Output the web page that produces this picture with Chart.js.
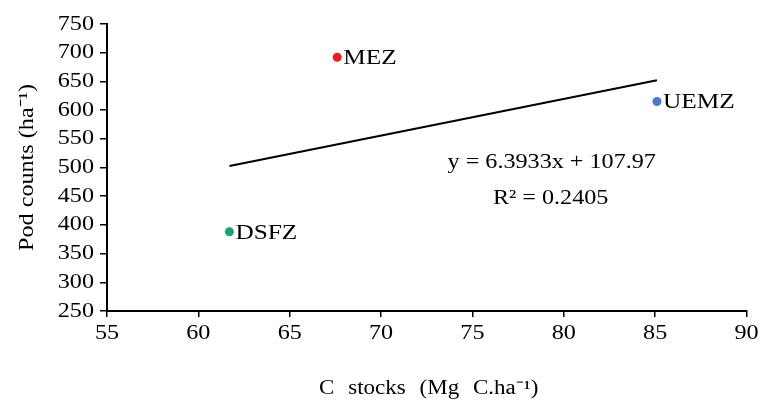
<!DOCTYPE html>
<html>
<head>
<meta charset="utf-8">
<script src="https://cdn.jsdelivr.net/npm/chart.js@4.4.1/dist/chart.umd.min.js"></script>
<style>
  html, body { margin: 0; padding: 0; background: #fff; }
  #wrap { width: 761px; height: 401px; }
</style>
</head>
<body>
<div id="wrap"><canvas id="c" width="761" height="401"></canvas></div>
<script>
// sites
let zones = ['DSFZ', 'MEZ', 'UEMZ'];
let c_stocks = [61.7, 67.6, 85.1];
let pod_counts = [388, 692, 615];
let zone_color = ['#12a86a', '#ee1c1c', '#4a78cc'];

// trend line from the figure
let slope = 6.3933;
let intercept = 107.97;
let eq_text = ['y = 6.3933x + 107.97', 'R² = 0.2405'];

let x_ticks = [55, 60, 65, 70, 75, 80, 85, 90];
let y_ticks = [250, 300, 350, 400, 450, 500, 550, 600, 650, 700, 750];
let x_title = 'C stocks (Mg C.ha⁻¹)';
let y_title = 'Pod counts (ha⁻¹)';

const FONT = "'Liberation Serif', 'Times New Roman', serif";
const STRETCH = 1.15; // the source text is a horizontally stretched Times

// stretch every text draw around its anchor point
const canvas = document.getElementById('c');
const cctx = canvas.getContext('2d');
const rawFill = cctx.fillText.bind(cctx);
cctx.fillText = function(t, x, y) {
    this.save();
    this.translate(x, y);
    this.scale(STRETCH, 1);
    rawFill(t, 0, 0);
    this.restore();
};

let xmin = Math.min(...c_stocks), xmax = Math.max(...c_stocks);
let trend = [
    {x: xmin, y: slope * xmin + intercept},
    {x: xmax, y: slope * xmax + intercept}
];

let pointSets = zones.map(function(z, i) {
    return {
        type: 'scatter',
        label: z,
        data: [{x: c_stocks[i], y: pod_counts[i]}],
        backgroundColor: zone_color[i],
        borderColor: zone_color[i],
        pointRadius: 4.5,
        pointBorderWidth: 0
    };
});

// labels next to points, the equation and x title
const textPlugin = {
    id: 'textPlugin',
    afterDraw(chart) {
        const ctx = chart.ctx;
        const xs = chart.scales.x, ys = chart.scales.y;
        ctx.save();
        ctx.fillStyle = '#000';
        ctx.textBaseline = 'middle';
        ctx.textAlign = 'left';
        ctx.font = '22px ' + FONT;
        zones.forEach(function(z, i) {
            ctx.fillText(z, xs.getPixelForValue(c_stocks[i]) + 6, ys.getPixelForValue(pod_counts[i]) + 1);
        });
        ctx.textAlign = 'center';
        ctx.font = '21px ' + FONT;
        ctx.fillText(eq_text[0], xs.getPixelForValue(79.34), ys.getPixelForValue(508));
        ctx.fillText(eq_text[1], xs.getPixelForValue(79.28), ys.getPixelForValue(446));

        ctx.font = '20px ' + FONT;
        ctx.wordSpacing = '7px';
        ctx.fillText(x_title, (xs.left + xs.right) / 2 + 2, 389);
        ctx.restore();
    }
};

const tickOpts = {
    color: '#000',
    font: {family: FONT, size: 21},
    padding: 5
};

new Chart(canvas, {
    type: 'scatter',
    data: {
        datasets: pointSets.concat([{
            type: 'line',
            label: 'trend',
            data: trend,
            borderColor: '#000',
            borderWidth: 2,
            pointRadius: 0,
            fill: false
        }])
    },
    options: {
        responsive: false,
        animation: false,
        layout: {padding: {left: 0, right: 14, top: 24, bottom: 0}},
        plugins: {
            legend: {display: false},
            tooltip: {enabled: false}
        },
        scales: {
            x: {
                type: 'linear',
                min: 55, max: 90,
                afterBuildTicks(s) { s.ticks = x_ticks.map(v => ({value: v})); },
                afterFit(s) { s.height = 90; },
                ticks: Object.assign({}, tickOpts, {maxRotation: 0, autoSkip: false, padding: 4}),
                grid: {drawOnChartArea: false, drawTicks: true, tickLength: 6, color: '#000', lineWidth: 1.5},
                border: {display: true, color: '#000', width: 2},
                title: {display: false}
            },
            y: {
                type: 'linear',
                min: 250, max: 750,
                afterBuildTicks(s) { s.ticks = y_ticks.map(v => ({value: v})); },
                afterFit(s) { s.width = 107; },
                ticks: Object.assign({}, tickOpts, {autoSkip: false, padding: 6}),
                grid: {drawOnChartArea: false, drawTicks: true, tickLength: 7, color: '#000', lineWidth: 1.5},
                border: {display: true, color: '#000', width: 2},
                title: {display: true, text: y_title, color: '#000',
                        font: {family: FONT, size: 21}, padding: {top: 15, bottom: 0}}
            }
        }
    },
    plugins: [textPlugin]
});
</script>
</body>
</html>
